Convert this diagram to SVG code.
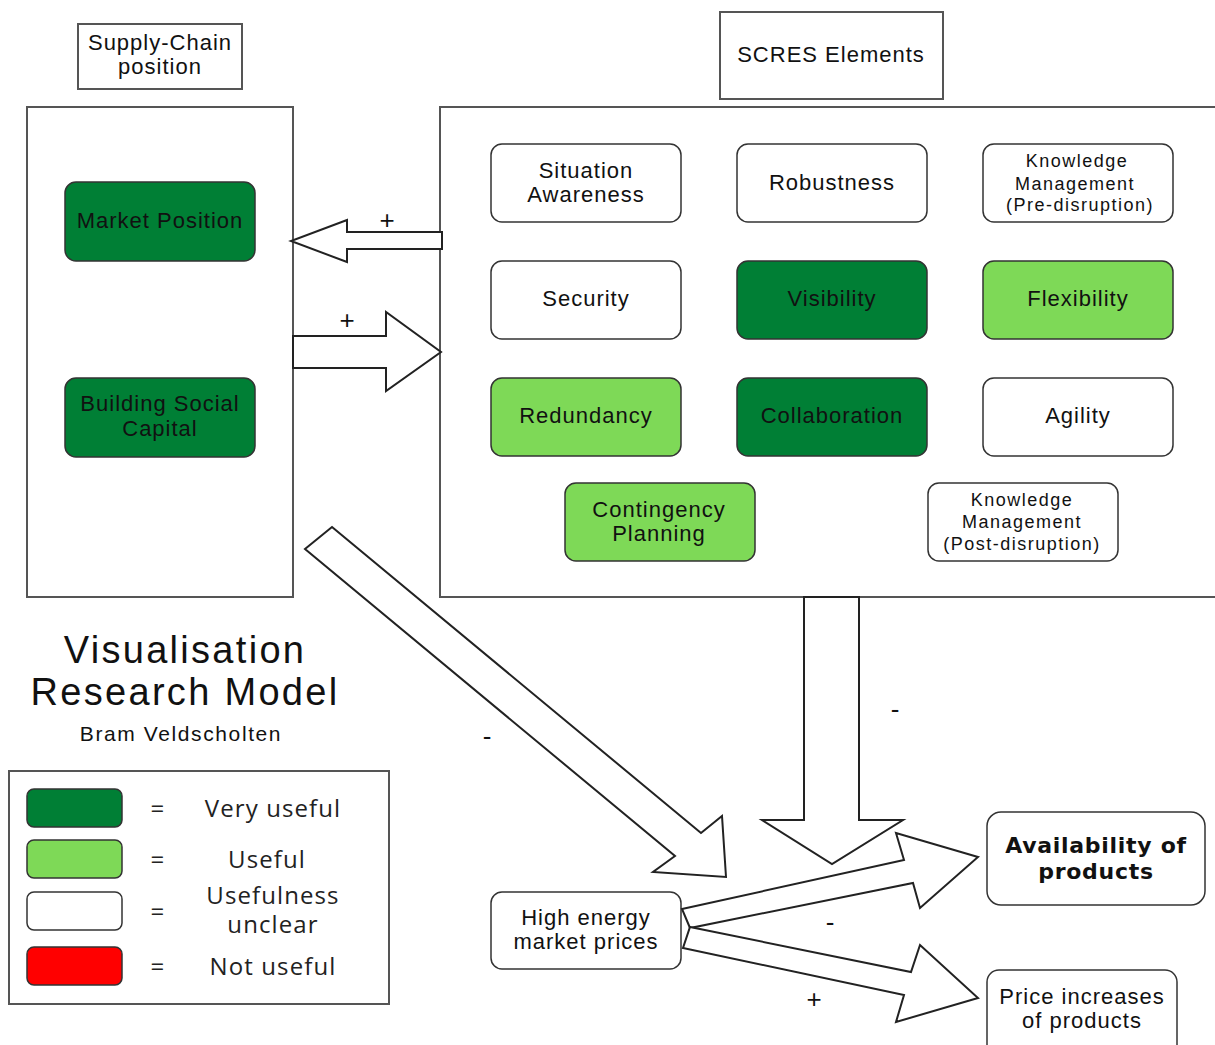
<svg xmlns="http://www.w3.org/2000/svg" width="1215" height="1045" viewBox="0 0 1215 1045">
<style>
text{font-family:"Liberation Sans",Arial,sans-serif;fill:#111;text-anchor:middle}
.frame{fill:#fff;stroke:#555;stroke-width:2}
.node{stroke:#333;stroke-width:1.5}
.w{fill:#fff}.dg{fill:#007f35}.lg{fill:#7ed957}.rd{fill:#ff0000}
.t{font-size:22px;letter-spacing:1px}
.s{font-size:18px;letter-spacing:1.5px}
.b{font-family:"DejaVu Sans",sans-serif;font-weight:bold;font-size:22px;letter-spacing:0.7px}
.arrow{fill:#fff;stroke:#222;stroke-width:2;stroke-linejoin:miter}
.sign{font-size:26px}
.leg{font-family:"Open Sans","Noto Sans",sans-serif;font-size:24px;letter-spacing:1.1px;fill:#222}
.ttl{font-size:38px;letter-spacing:2.3px}
</style>
<rect width="1215" height="1045" fill="#fff"/>

<g id="supply-chain-label"><rect class="frame" x="78" y="24" width="164" height="65"/>
<text class="t" x="160" y="50">Supply-Chain</text><text class="t" x="160" y="74">position</text></g>
<g id="scres-label"><rect class="frame" x="720" y="12" width="223" height="87"/>
<text class="t" x="831" y="62">SCRES Elements</text></g>

<g id="supply-chain-box"><rect class="frame" x="27" y="107" width="266" height="490"/></g>
<g id="scres-box"><rect class="frame" x="440" y="107" width="790" height="490"/></g>

<g id="market-position"><rect class="node dg" x="65" y="182" width="190" height="79" rx="11"/><text class="t" x="160" y="228">Market Position</text></g>
<g id="building-social-capital"><rect class="node dg" x="65" y="378" width="190" height="79" rx="11"/><text class="t" x="160" y="411">Building Social</text><text class="t" x="160" y="436">Capital</text></g>

<g id="situation-awareness"><rect class="node w" x="491" y="144" width="190" height="78" rx="11"/><text class="t" x="586" y="178">Situation</text><text class="t" x="586" y="202">Awareness</text></g>
<g id="robustness"><rect class="node w" x="737" y="144" width="190" height="78" rx="11"/><text class="t" x="832" y="190">Robustness</text></g>
<g id="km-pre"><rect class="node w" x="983" y="144" width="190" height="78" rx="11"/><text class="s" x="1077" y="167">Knowledge</text><text class="s" x="1075" y="190">Management</text><text class="s" x="1080" y="211">(Pre-disruption)</text></g>
<g id="security"><rect class="node w" x="491" y="261" width="190" height="78" rx="11"/><text class="t" x="586" y="306">Security</text></g>
<g id="visibility"><rect class="node dg" x="737" y="261" width="190" height="78" rx="11"/><text class="t" x="832" y="306">Visibility</text></g>
<g id="flexibility"><rect class="node lg" x="983" y="261" width="190" height="78" rx="11"/><text class="t" x="1078" y="306">Flexibility</text></g>
<g id="redundancy"><rect class="node lg" x="491" y="378" width="190" height="78" rx="11"/><text class="t" x="586" y="423">Redundancy</text></g>
<g id="collaboration"><rect class="node dg" x="737" y="378" width="190" height="78" rx="11"/><text class="t" x="832" y="423">Collaboration</text></g>
<g id="agility"><rect class="node w" x="983" y="378" width="190" height="78" rx="11"/><text class="t" x="1078" y="423">Agility</text></g>
<g id="contingency-planning"><rect class="node lg" x="565" y="483" width="190" height="78" rx="11"/><text class="t" x="659" y="517">Contingency</text><text class="t" x="659" y="541">Planning</text></g>
<g id="km-post"><rect class="node w" x="928" y="483" width="190" height="78" rx="11"/><text class="s" x="1022" y="506">Knowledge</text><text class="s" x="1022" y="528">Management</text><text class="s" x="1022" y="550">(Post-disruption)</text></g>

<g id="high-energy"><rect class="node w" x="491" y="892" width="190" height="77" rx="11"/><text class="t" x="586" y="925">High energy</text><text class="t" x="586" y="949">market prices</text></g>
<g id="availability"><rect class="node w" x="987" y="812" width="218" height="93" rx="14"/><text class="b" x="1096" y="853">Availability of</text><text class="b" x="1096" y="879">products</text></g>
<g id="price-increases"><rect class="node w" x="987" y="970" width="190" height="90" rx="12"/><text class="t" x="1082" y="1004">Price increases</text><text class="t" x="1082" y="1028">of products</text></g>

<g id="connectors">
<polygon class="arrow" points="442,232 347,232 347,220 291,241 347,262 347,249 442,249"/>
<polygon class="arrow" points="293,336 386,336 386,312 441,352 386,391 386,368 293,368"/>
<polygon class="arrow" points="332,527 701,833 722,816 726,877 653,872 675,856 305,549"/>
<polygon class="arrow" points="804,597 859,597 859,820 903,820 832,864 762,820 804,820"/>
<polygon class="arrow" points="682,909 904,860 896,833 978,857 920,908 913,883 690,928"/>
<polygon class="arrow" points="690,927 911,972 920,945 978,998 896,1022 904,995 683,948"/>
<text class="sign" x="387" y="229">+</text>
<text class="sign" x="347" y="329">+</text>
<text class="sign" x="487" y="745">-</text>
<text class="sign" x="895" y="718">-</text>
<text class="sign" x="830" y="931">-</text>
<text class="sign" x="814" y="1008">+</text>
</g>

<g id="title">
<text class="ttl" x="185" y="663">Visualisation</text>
<text class="ttl" x="185" y="705">Research Model</text>
<text x="181" y="741" font-size="21" letter-spacing="1.6">Bram Veldscholten</text>
</g>

<g id="legend">
<rect class="frame" x="9" y="771" width="380" height="233"/>
<rect class="node dg" x="27" y="789" width="95" height="38" rx="7"/>
<rect class="node lg" x="27" y="840" width="95" height="38" rx="7"/>
<rect class="node w" x="27" y="892" width="95" height="38" rx="7" stroke="#666"/>
<rect class="node rd" x="27" y="947" width="95" height="38" rx="7"/>
<text class="leg" x="158" y="817">=</text>
<text class="leg" x="158" y="868">=</text>
<text class="leg" x="158" y="920">=</text>
<text class="leg" x="158" y="975">=</text>
<text class="leg" x="273" y="817">Very useful</text>
<text class="leg" x="267" y="868">Useful</text>
<text class="leg"><tspan x="273" y="904">Usefulness</tspan><tspan x="273" y="933">unclear</tspan></text>
<text class="leg" x="273" y="975">Not useful</text>
</g>
</svg>
